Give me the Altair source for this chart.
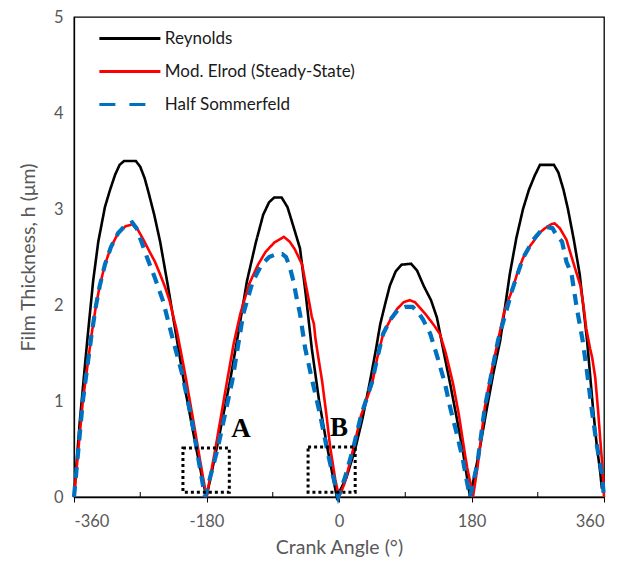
import altair as alt
import pandas as pd

# ---- data ----
rey_angle = [-360, -352, -342, -334, -327, -318, -311, -304, -298, -292, -276, -270, -264, -259, -251, -243, -232, -220, -208, -195, -186, -180,
             -165, -148, -137, -125, -113, -103, -95, -88, -78, -70, -62, -53, -45, -37, -27, -16, -8, -3,
             10, 22, 32, 42, 50, 56, 63, 69, 77, 85, 98, 106, 115, 125, 133, 142, 151, 160, 168, 174, 178,
             190, 201, 210, 219, 232, 241, 250, 258, 266, 273, 292, 298, 305, 311, 319, 327, 337, 345, 350, 355, 357, 360]
rey_h = [0.0, 0.8, 1.63, 2.25, 2.66, 3.02, 3.2, 3.36, 3.46, 3.5, 3.5, 3.44, 3.32, 3.18, 2.94, 2.66, 2.18, 1.63, 1.08, 0.55, 0.2, 0.0,
         0.55, 1.21, 1.7, 2.25, 2.65, 2.94, 3.07, 3.12, 3.12, 3.02, 2.82, 2.59, 2.1, 1.55, 1.0, 0.52, 0.2, 0.0,
         0.2, 0.5, 0.82, 1.2, 1.53, 1.8, 2.02, 2.2, 2.35, 2.42, 2.43, 2.36, 2.2, 2.05, 1.87, 1.52, 1.18, 0.82, 0.49, 0.2, 0.0,
         0.45, 0.93, 1.3, 1.63, 2.32, 2.7, 3.0, 3.2, 3.35, 3.46, 3.46, 3.38, 3.2, 3.0, 2.68, 2.32, 1.63, 0.93, 0.55, 0.25, 0.1, 0.1]

elrod_angle = [-360, -354, -348, -342, -336, -330, -325, -318, -310, -300, -290, -281, -273, -265, -257, -250, -243, -236, -230, -220, -209, -198, -188, -180,
               -168, -152, -143, -134, -122, -110, -100, -88, -75, -67, -60, -55, -50, -46, -41, -37, -34, -32, -28, -23, -17, -12, -5, 0,
               8, 19, 30, 45, 52, 60, 70, 79, 88, 96, 103, 110, 118, 128, 137, 145, 155, 163, 170, 174, 177, 180, 182,
               188, 198, 207, 216, 225, 235, 243, 250, 258, 264, 272, 280, 288, 293, 300, 309, 316, 322, 328, 332, 336, 341, 344, 348, 352, 355, 358, 360]
elrod_h = [0.0, 0.5, 1.0, 1.35, 1.7, 2.0, 2.2, 2.42, 2.6, 2.75, 2.82, 2.84, 2.78, 2.67, 2.55, 2.45, 2.32, 2.18, 2.04, 1.72, 1.28, 0.8, 0.35, 0.0,
           0.5, 1.21, 1.6, 1.91, 2.22, 2.42, 2.55, 2.65, 2.71, 2.66, 2.58, 2.5, 2.42, 2.25, 2.05, 1.88, 1.8, 1.65, 1.45, 1.21, 0.85, 0.52, 0.18, 0.0,
           0.15, 0.49, 0.85, 1.18, 1.45, 1.7, 1.85, 1.96, 2.03, 2.05, 2.03, 1.97, 1.9, 1.8, 1.7, 1.5, 1.18, 0.85, 0.5, 0.31, 0.2, 0.1, 0.0,
           0.3, 0.93, 1.3, 1.63, 1.95, 2.15, 2.35, 2.49, 2.6, 2.66, 2.75, 2.8, 2.84, 2.85, 2.8, 2.68, 2.5, 2.35, 2.2, 2.0, 1.75, 1.55, 1.45, 1.25, 0.9, 0.59, 0.3, 0.0]

som_angle = [-360, -354, -348, -342, -336, -330, -325, -318, -310, -300, -290, -281, -275, -268, -260, -250, -239, -226, -213, -200, -190, -182,
             -165, -145, -130, -117, -105, -95, -85, -77, -72, -67, -62, -57, -53, -46, -36, -26, -15, -6, -1,
             8, 19, 30, 45, 52, 60, 70, 80, 90, 100, 107, 114, 124, 134, 144, 152, 160, 168, 174, 178,
             188, 198, 216, 235, 250, 264, 275, 283, 290, 296, 303, 309, 316, 323, 331, 337, 343, 350, 357, 360]
som_h = [0.0, 0.5, 1.0, 1.35, 1.7, 2.0, 2.2, 2.42, 2.6, 2.75, 2.83, 2.86, 2.8, 2.65, 2.48, 2.28, 2.04, 1.65, 1.28, 0.8, 0.35, 0.0,
         0.5, 1.21, 1.91, 2.25, 2.42, 2.5, 2.53, 2.53, 2.5, 2.4, 2.25, 2.05, 1.91, 1.55, 1.2, 0.87, 0.45, 0.15, 0.0,
         0.2, 0.5, 0.85, 1.2, 1.45, 1.7, 1.85, 1.95, 1.98, 1.98, 1.93, 1.85, 1.7, 1.45, 1.18, 0.9, 0.66, 0.4, 0.15, 0.0,
         0.35, 0.93, 1.63, 2.15, 2.49, 2.68, 2.78, 2.81, 2.8, 2.72, 2.66, 2.45, 2.32, 1.97, 1.63, 1.3, 0.93, 0.55, 0.25, 0.0]

series_names = ["Reynolds", "Mod. Elrod (Steady-State)", "Half Sommerfeld"]
series_colors = ["#000000", "#FF0000", "#0070C0"]

x_ticks = [-360, -180, 0, 180, 360]
minor_ticks = [-270, -90, 90, 270]
y_ticks = [0, 1, 2, 3, 4, 5]

box_labels = ["A", "B"]
box_x1 = [-212, -42]
box_x2 = [-149, 22]
box_y1 = [0.05, 0.05]
box_y2 = [0.51, 0.52]
label_x = [-133, 0]
label_y = [0.62, 0.64]

# ---- tables ----
frames = []
for name, a, h in zip(series_names, [rey_angle, elrod_angle, som_angle], [rey_h, elrod_h, som_h]):
    frames.append(pd.DataFrame({"angle": a, "h": h, "model": name}))
df = pd.concat(frames, ignore_index=True)
df["idx"] = range(len(df))
# first point of each series: only used to carry the legend (a one-point line draws nothing)
legend_df = df.groupby("model", sort=False).head(1)

boxes = pd.DataFrame({"x1": box_x1, "x2": box_x2, "y1": box_y1, "y2": box_y2,
                      "lx": label_x, "ly": label_y, "label": box_labels})
minor = pd.DataFrame({"angle": minor_ticks})

PH = 480
xscale = alt.Scale(domain=[-360, 360], nice=False, zero=False)
yscale = alt.Scale(domain=[0, 5], nice=False)

xaxis = alt.Axis(values=x_ticks, title="Crank Angle (°)", grid=False, tickSize=5,
                 labelPadding=11, titlePadding=9, labelExpr="'' + datum.value")
yaxis = alt.Axis(values=y_ticks, title="Film Thickness, h (μm)", grid=False, ticks=False,
                 labelPadding=11, titlePadding=15, format="d")

# legend symbol: long horizontal stroke drawn as a custom path (unit box scaled by sqrt(size))
SYM = "M-5,0H5"
color = alt.Color("model:N", scale=alt.Scale(domain=series_names, range=series_colors),
                  title=None,
                  legend=alt.Legend(orient="none", legendX=47.4, legendY=13, symbolType=SYM,
                                    symbolSize=149, labelOffset=26.4, rowPadding=15,
                                    labelFontSize=17, labelColor="#1a1a1a", padding=0,
                                    labelLimit=400, symbolStrokeWidth=3))
dash = alt.StrokeDash("model:N", scale=alt.Scale(domain=series_names,
                                                  range=[[1, 0], [1, 0], [16, 14, 16, 30]]), title=None)

layers = []
for name, dsh, sw in zip(series_names, [[1, 0], [1, 0], [11, 8]], [2.6, 2.6, 4.2]):
    layers.append(
        alt.Chart(df).transform_filter(alt.datum.model == name)
        .mark_line(strokeDash=dsh, strokeWidth=sw, strokeCap="butt")
        .encode(x=alt.X("angle:Q", scale=xscale, axis=xaxis),
                y=alt.Y("h:Q", scale=yscale, axis=yaxis),
                color=color, order="idx:Q")
    )

legend_layer = alt.Chart(legend_df).mark_line(strokeWidth=3).encode(
    x=alt.X("angle:Q", scale=xscale), y=alt.Y("h:Q", scale=yscale),
    color=color, strokeDash=dash)

minor_rules = alt.Chart(minor).mark_rule(color="black", strokeWidth=1).encode(
    x=alt.X("angle:Q", scale=xscale), y=alt.value(PH), y2=alt.value(PH - 5))

rects = alt.Chart(boxes).mark_rect(fill=None, stroke="black", strokeWidth=3,
                                   strokeDash=[3, 3]).encode(
    x=alt.X("x1:Q", scale=xscale), x2="x2:Q",
    y=alt.Y("y1:Q", scale=yscale), y2="y2:Q")

letters = alt.Chart(boxes).mark_text(font="Liberation Serif", fontWeight="bold", fontSize=27,
                                     baseline="alphabetic", align="center", color="black").encode(
    x=alt.X("lx:Q", scale=xscale), y=alt.Y("ly:Q", scale=yscale), text="label:N")

chart = alt.layer(*layers, legend_layer, minor_rules, rects, letters).properties(
    width=530, height=PH,
    autosize=alt.AutoSizeParams(type="none"),
    padding={"left": 66, "top": 9, "right": 10, "bottom": 60},
).configure_view(stroke="black", strokeWidth=1.3).configure_axis(
    domainColor="black", domainWidth=1.3, tickColor="black", labelFont="Lato", titleFont="Lato",
    labelFontSize=16.5, titleFontSize=19.5, labelColor="#595959", titleColor="#595959",
    titleFontWeight="normal"
).configure_legend(labelFont="Lato")

chart.save("out.html", embed_options={"renderer": "svg", "actions": False})
